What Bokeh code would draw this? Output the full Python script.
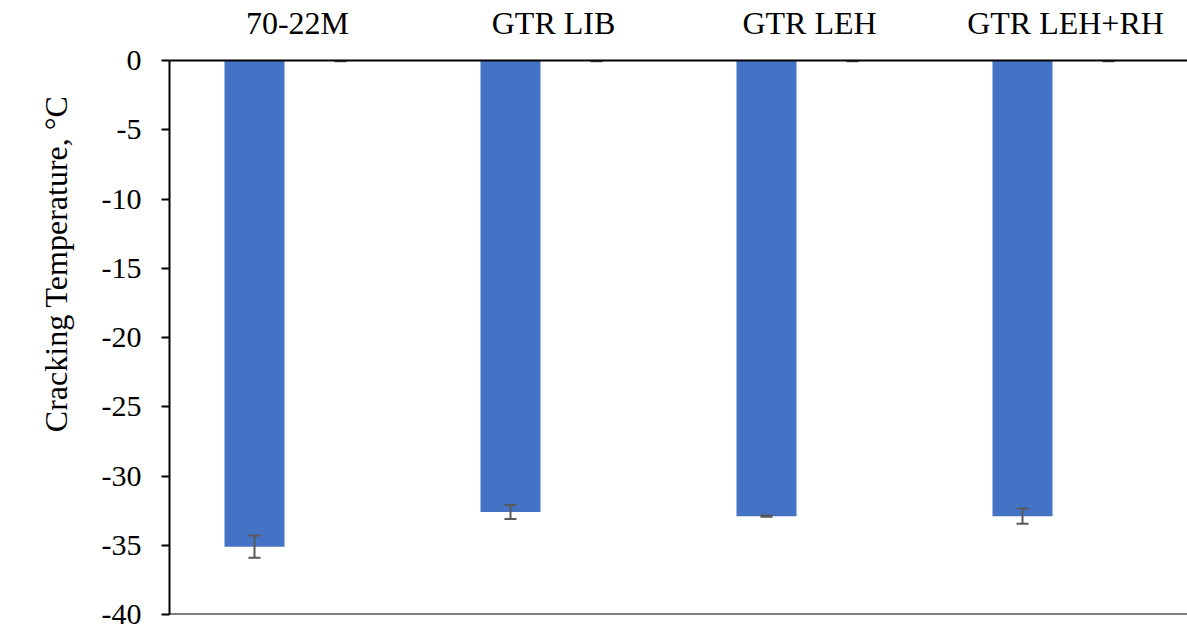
from bokeh.plotting import figure
from bokeh.models import Range1d, FixedTicker, LinearAxis, Span, ColumnDataSource, Title
from bokeh.embed import file_html
from bokeh.resources import INLINE

# Binder cracking temperatures (°C) with standard deviations
categories = ["70-22M", "GTR LIB", "GTR LEH", "GTR LEH+RH"]
cracking_temp = [-35.1, -32.6, -32.9, -32.9]
temp_sd = [0.8, 0.5, 0.05, 0.55]
# companion series plotted at zero (hidden bars, only tiny error caps show)
zero_series = [0.0, 0.0, 0.0, 0.0]
y_ticks = [0, -5, -10, -15, -20, -25, -30, -35, -40]

W, H = 1187, 631
left, top, bottom = 169, 60, 17
cat_px = 256.0
x_end = (W - left) / cat_px

centers = [i + 0.5 for i in range(len(categories))]
offset = 43 / cat_px
bar_w = 60 / cat_px
cap = 6 / cat_px

bar_x = [c - offset for c in centers]
zero_x = [c + offset for c in centers]

p = figure(width=W, height=H, output_backend="svg", toolbar_location=None,
           x_range=Range1d(0, x_end), y_range=Range1d(-40, 0),
           x_axis_location=None, y_axis_location=None,
           min_border_left=left, min_border_top=top, min_border_bottom=bottom,
           min_border_right=0)
p.outline_line_color = None
p.xgrid.visible = False
p.ygrid.visible = False
p.background_fill_color = "white"
p.border_fill_color = "white"

src = ColumnDataSource(dict(x=bar_x, top=[0] * len(cracking_temp), bottom=cracking_temp,
                            lo=[v - s for v, s in zip(cracking_temp, temp_sd)],
                            hi=[v + s for v, s in zip(cracking_temp, temp_sd)],
                            cl=[x - cap for x in bar_x], cr=[x + cap for x in bar_x]))
p.vbar(x="x", width=bar_w, top="top", bottom="bottom", source=src,
       fill_color="#4472C4", line_color=None)

err_color = "#595959"
p.segment(x0="x", y0="lo", x1="x", y1="hi", source=src, line_color=err_color, line_width=2)
p.segment(x0="cl", y0="lo", x1="cr", y1="lo", source=src, line_color=err_color, line_width=2)
p.segment(x0="cl", y0="hi", x1="cr", y1="hi", source=src, line_color=err_color, line_width=2)

# caps of the zero-valued companion series
zsrc = ColumnDataSource(dict(x0=[x - cap for x in zero_x], x1=[x + cap for x in zero_x],
                             y=[v - 0.05 for v in zero_series]))
p.segment(x0="x0", y0="y", x1="x1", y1="y", source=zsrc, line_color=err_color, line_width=2)

font = "Liberation Serif"

# category axis on top, crossing at 0
xa = LinearAxis(ticker=FixedTicker(ticks=centers),
                major_label_overrides={c: n for c, n in zip(centers, categories)})
xa.axis_line_color = "black"
xa.axis_line_width = 2
xa.major_tick_line_color = None
xa.minor_tick_line_color = None
xa.major_label_text_font = font
xa.major_label_text_font_size = "32px"
xa.major_label_text_color = "black"
xa.major_label_standoff = 14
p.add_layout(xa, "above")

ya = LinearAxis(ticker=FixedTicker(ticks=y_ticks),
                major_label_overrides={t: str(t) for t in y_ticks})
ya.axis_line_color = "black"
ya.axis_line_width = 2
ya.major_tick_line_color = "black"
ya.major_tick_line_width = 2
ya.major_tick_out = 8
ya.major_tick_in = 0
ya.minor_tick_line_color = None
ya.major_label_text_font = font
ya.major_label_text_font_size = "30px"
ya.major_label_text_color = "black"
ya.major_label_standoff = 20
p.add_layout(ya, "left")

# vertical axis title, running up to a little below the top of the frame
p.add_layout(Title(text="Cracking Temperature, °C", align="right", offset=35,
                   standoff=50, text_font=font, text_font_size="32px",
                   text_font_style="normal", text_color="black"), "left")

# baseline at -40
p.add_layout(Span(location=-40, dimension="width", line_color="black", line_width=2))

open("out.html", "w").write(file_html(p, INLINE))
